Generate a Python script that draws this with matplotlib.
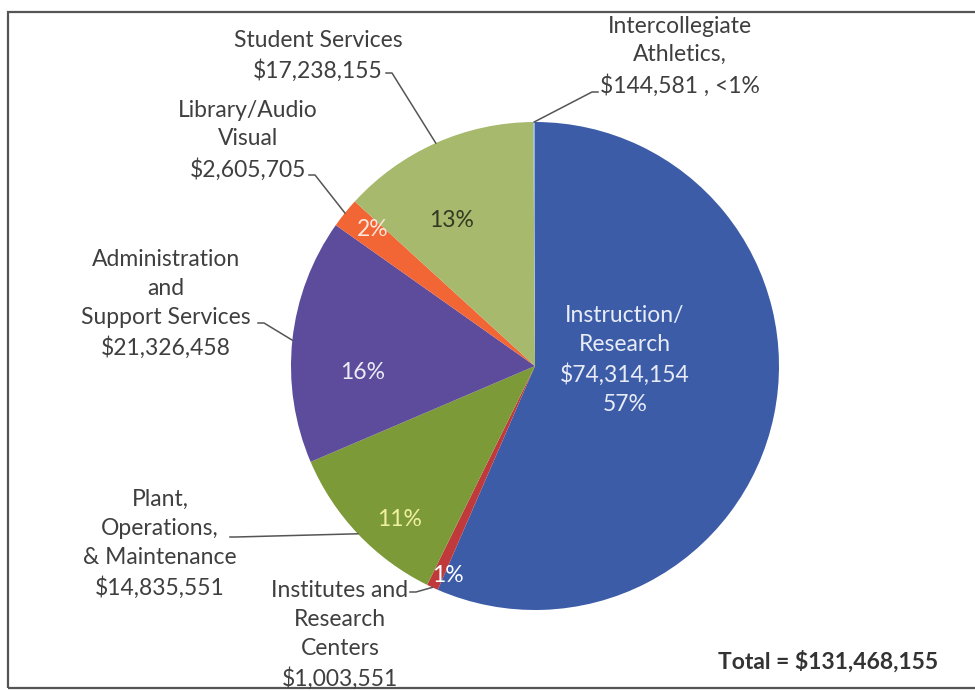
import numpy as np
import matplotlib.pyplot as plt
from matplotlib.patches import Rectangle

plt.rcParams["font.family"] = ["Lato", "DejaVu Sans"]

# slice data, clockwise from 12 o'clock
categories = ["Instruction/Research", "Institutes and Research Centers",
              "Plant, Operations, & Maintenance", "Administration and Support Services",
              "Library/Audio Visual", "Student Services", "Intercollegiate Athletics"]
amounts = [74314154, 1003551, 14835551, 21326458, 2605705, 17238155, 144581]
pct_labels = ["57%", "1%", "11%", "16%", "2%", "13%", "<1%"]
total_label = "Total = $131,468,155"

outside_text = [
    None,
    "Institutes and\nResearch\nCenters\n$1,003,551",
    "Plant,\nOperations,\n& Maintenance\n$14,835,551",
    "Administration\nand\nSupport Services\n$21,326,458",
    "Library/Audio\nVisual\n$2,605,705",
    "Student Services\n$17,238,155",
    "Intercollegiate\nAthletics,\n$144,581 , <1%",
]
colors = ["#3c5ca8", "#c0393b", "#7d9a38", "#5d4c9c", "#f26534", "#a7b96c", "#8fb0d8"]
pct_colors = ["white", "white", "#f0f0a0", "#ececf4", "#fbe6dc", "#333a22", "white"]

W, H = 975, 691
def Y(y):
    return H - y

fig = plt.figure(figsize=(9.75, 6.91), dpi=100)
ax = fig.add_axes([0, 0, 1, 1])

cx, cy, r = 535, Y(366), 244
wedges, _ = ax.pie(amounts, colors=colors, startangle=90, counterclock=False,
                   center=(cx, cy), radius=r, frame=True,
                   wedgeprops=dict(linewidth=0))
ax.set_xlim(0, W)
ax.set_ylim(0, H)
ax.axis("off")

# frame around the chart
ax.add_patch(Rectangle((8, Y(688)), 1000, 688 - 12, fill=False,
                       edgecolor="#555555", linewidth=1.6, clip_on=False))

# label block centres and leader start points (image pixel coords)
text_pos = [None, (340, 635), (160, 544), (166, 304), (248, 140), (318, 56), (680, 56)]
leader_start = [None, (410, 592), (230, 537), (258, 323), (309, 175), (386, 73), (598, 92)]
hook = [0, 6, 6, 6, 6, 6, -6]
pct_pos = [None, (448, 575), (400, 520), (363, 372), (373, 229), (452, 220), None]

txt = "#3f3f3f"
fs = 16.5
ls = 1.45
for i, w in enumerate(wedges):
    mid = np.deg2rad((w.theta1 + w.theta2) / 2)
    ex, ey = cx + r * np.cos(mid), cy + r * np.sin(mid)
    if text_pos[i] is not None:
        tx, ty = text_pos[i]
        ax.text(tx, Y(ty), outside_text[i], ha="center", va="center",
                fontsize=fs, color=txt, linespacing=ls)
        sx, sy = leader_start[i]
        ax.plot([sx, sx + hook[i], ex], [Y(sy), Y(sy), ey], color="#555555", lw=1.1)
    if pct_pos[i] is not None:
        px, py = pct_pos[i]
        ax.text(px, Y(py), pct_labels[i], ha="center", va="center",
                fontsize=fs, color=pct_colors[i])

ax.text(625, Y(360), "Instruction/\nResearch\n$74,314,154\n" + pct_labels[0],
        ha="center", va="center", fontsize=fs, color="#e8ecf6", linespacing=ls)

ax.text(938, Y(662), total_label, ha="right", va="center", fontsize=fs,
        fontweight="bold", color="#333333")

fig.savefig("out.png", dpi=100, facecolor="white")
